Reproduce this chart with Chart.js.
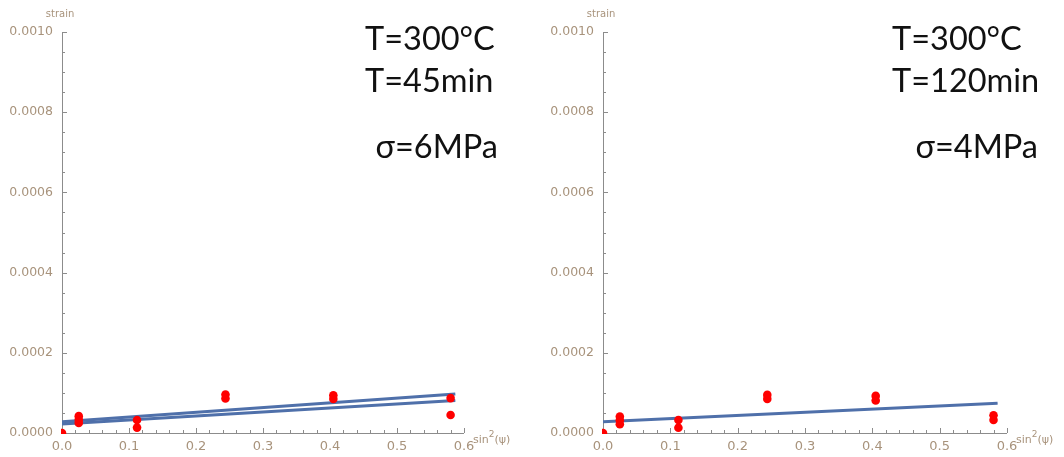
<!DOCTYPE html>
<html>
<head>
<meta charset="UTF-8">
<title>strain vs sin2(psi)</title>
<script src="https://cdn.jsdelivr.net/npm/chart.js"></script>
<style>
  html, body { margin: 0; padding: 0; background: #fff; }
  .row { display: flex; width: 1064px; height: 457px; }
  canvas { display: block; }
</style>
</head>
<body>
<div class="row">
  <canvas id="chart45" width="532" height="457"></canvas>
  <canvas id="chart120" width="532" height="457"></canvas>
</div>
<script>
// tick labels
const xTickLabels = ['0.0', '0.1', '0.2', '0.3', '0.4', '0.5', '0.6'];
const yTickLabels = ['0.0000', '0.0002', '0.0004', '0.0006', '0.0008', '0.0010'];

// 300°C / 45 min, measured points
const pts45X = [0, 0.025, 0.025, 0.025, 0.112, 0.112, 0.244, 0.244, 0.405, 0.405, 0.58, 0.58];
const pts45Y = [0, 0.000042, 0.000033, 0.000025, 0.0000325, 0.0000135, 0.000096, 0.000086, 0.000094, 0.000085, 0.000087, 0.000045];
// two fitted lines
const fit45X = [0, 0.587];
const fitA45Y = [0.000028, 0.0000975];
const fitB45Y = [0.0000225, 0.000081];
const notes45 = ['T=300°C', 'T=45min', 'σ=6MPa'];

// 300°C / 120 min
const pts120X = [0, 0.025, 0.025, 0.025, 0.112, 0.112, 0.244, 0.244, 0.405, 0.405, 0.58, 0.58];
const pts120Y = [0, 0.000041, 0.000032, 0.000022, 0.0000325, 0.0000133, 0.000095, 0.000085, 0.0000925, 0.000081, 0.000044, 0.0000325];
const fit120X = [0, 0.586];
const fit120Y = [0.000028, 0.0000742];
const notes120 = ['T=300°C', 'T=120min', 'σ=4MPa'];

const LABEL_COLOR = '#a8937c';
const AXIS_COLOR = '#8c8c8c';

function toXY(xs, ys) {
  return xs.map((x, i) => ({ x: x, y: ys[i] }));
}

// axes with inward ticks, axis titles and the big annotations
const framePlugin = {
  id: 'frame',
  beforeDatasetsDraw(chart) {
    const ctx = chart.ctx;
    const xs = chart.scales.x, ys = chart.scales.y;
    const x0 = xs.getPixelForValue(0), x1 = xs.getPixelForValue(0.6);
    const y0 = ys.getPixelForValue(0), y1 = ys.getPixelForValue(0.001);
    ctx.save();
    ctx.strokeStyle = AXIS_COLOR;
    ctx.lineWidth = 1;
    ctx.beginPath();
    ctx.moveTo(x0 + 0.5, y0);
    ctx.lineTo(x0 + 0.5, y1);
    ctx.moveTo(x0, y0 + 0.5);
    ctx.lineTo(x1, y0 + 0.5);
    // x ticks every 0.02, major every 0.1
    for (let k = 0; k <= 30; k++) {
      const px = Math.round(xs.getPixelForValue(k * 0.02)) + 0.5;
      const len = k % 5 === 0 ? 5 : 3;
      ctx.moveTo(px, y0);
      ctx.lineTo(px, y0 - len);
    }
    // y ticks every 0.00005, major every 0.0002
    for (let k = 0; k <= 20; k++) {
      const py = Math.round(ys.getPixelForValue(k * 0.00005)) + 0.5;
      const len = k % 4 === 0 ? 5 : 3;
      ctx.moveTo(x0, py);
      ctx.lineTo(x0 + len, py);
    }
    ctx.stroke();

    // axis titles
    ctx.fillStyle = LABEL_COLOR;
    ctx.font = '10px "DejaVu Sans"';
    ctx.textAlign = 'center';
    ctx.textBaseline = 'alphabetic';
    ctx.fillText('strain', x0 - 2, 17);
    ctx.textAlign = 'left';
    let tx = x1 + 9;
    const by = y0 + 10;
    ctx.font = '11px "DejaVu Sans"';
    ctx.fillText('sin', tx, by);
    tx += ctx.measureText('sin').width;
    ctx.font = '9px "DejaVu Sans"';
    ctx.fillText('2', tx, by - 6);
    tx += ctx.measureText('2').width;
    ctx.font = '11px "DejaVu Sans"';
    ctx.fillText('(ψ)', tx, by);
    ctx.restore();
  },
  afterDraw(chart, args, opts) {
    const ctx = chart.ctx;
    ctx.save();
    ctx.fillStyle = '#111';
    ctx.font = '32.5px Lato';
    ctx.textBaseline = 'alphabetic';
    opts.lines.forEach((t, i) => {
      const p = opts.pos[i];
      ctx.textAlign = p.align;
      ctx.fillText(t, p.x, p.y);
    });
    ctx.restore();
  }
};

function makeChart(id, ptsX, ptsY, fitX, fitYs, notes, box) {
  const datasets = [{
    data: toXY(ptsX, ptsY),
    backgroundColor: '#ff0000',
    borderWidth: 0,
    pointRadius: 4.3,
    clip: { left: 1, top: false, right: false, bottom: 1 }
  }];
  fitYs.forEach(fy => {
    datasets.push({
      data: toXY(fitX, fy),
      showLine: true,
      borderColor: '#4f70aa',
      borderWidth: 3,
      pointRadius: 0
    });
    datasets.push({
      data: toXY(fitX, fy),
      showLine: true,
      borderColor: '#c2d0e8',
      borderWidth: 1,
      pointRadius: 0
    });
  });

  return new Chart(document.getElementById(id), {
    type: 'scatter',
    data: { datasets: datasets },
    options: {
      responsive: false,
      animation: false,
      layout: { padding: { top: 32, right: box.right, left: 0, bottom: 0 } },
      plugins: {
        legend: { display: false },
        tooltip: { enabled: false },
        frame: { lines: notes, pos: box.notes }
      },
      scales: {
        x: {
          type: 'linear', min: 0, max: 0.6,
          grid: { display: false, drawTicks: false },
          border: { display: false },
          afterFit: s => { s.height = 24; },
          ticks: {
            stepSize: 0.1, padding: 6,
            color: LABEL_COLOR,
            font: { family: 'DejaVu Sans', size: 13 },
            maxRotation: 0,
            callback: (v, i) => xTickLabels[i]
          }
        },
        y: {
          type: 'linear', min: 0, max: 0.001,
          grid: { display: false, drawTicks: false },
          border: { display: false },
          afterFit: s => { s.width = box.left; },
          ticks: {
            stepSize: 0.0002, padding: 9,
            color: LABEL_COLOR,
            font: { family: 'DejaVu Sans', size: 12.5 },
            callback: (v, i) => yTickLabels[i]
          }
        }
      }
    },
    plugins: [framePlugin]
  });
}

makeChart('chart45', pts45X, pts45Y, fit45X, [fitA45Y, fitB45Y], notes45, {
  left: 62, right: 68,
  notes: [
    { x: 365, y: 50, align: 'left' },
    { x: 365, y: 92, align: 'left' },
    { x: 498, y: 158, align: 'right' }
  ]
});

makeChart('chart120', pts120X, pts120Y, fit120X, [fit120Y], notes120, {
  left: 71, right: 57,
  notes: [
    { x: 360, y: 50, align: 'left' },
    { x: 360, y: 92, align: 'left' },
    { x: 506, y: 158, align: 'right' }
  ]
});
</script>
</body>
</html>
